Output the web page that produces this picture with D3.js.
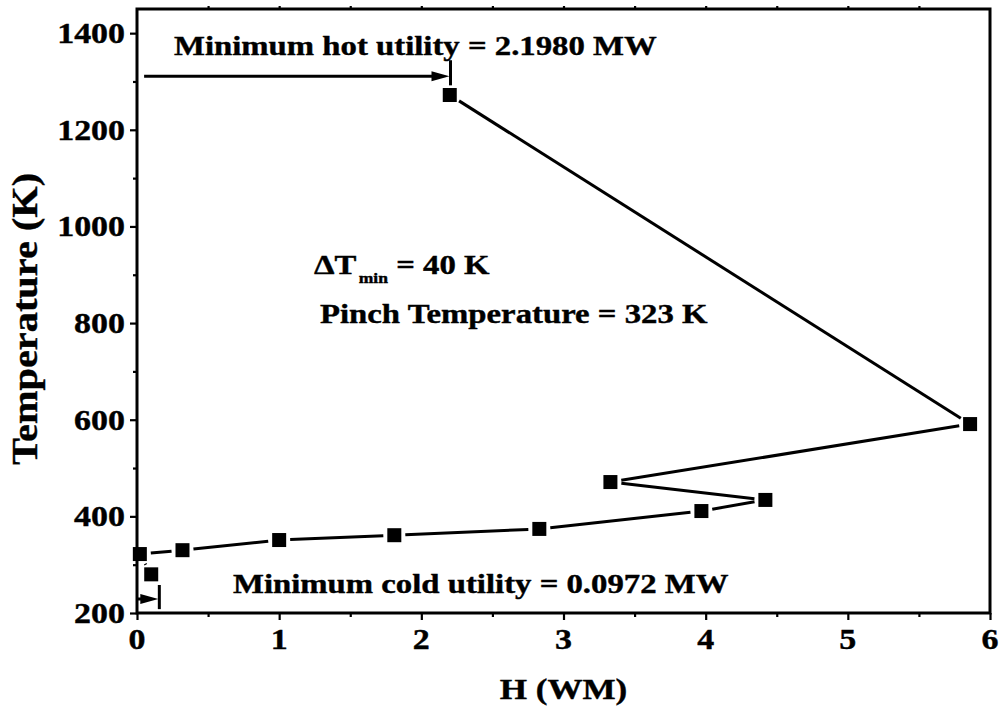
<!DOCTYPE html>
<html>
<head>
<meta charset="utf-8">
<script src="https://cdn.jsdelivr.net/npm/d3@7"></script>
<style>
  body { margin: 0; background: #fff; }
  text { font-family: "Liberation Serif", "Times New Roman", serif; font-weight: bold; fill: #000; stroke: #000; stroke-width: 0.4px; }
</style>
</head>
<body>
<div id="chart"></div>
<script>
// composite curve points (H in MW, T in K)
var H = [2.20, 5.86, 3.33, 4.42, 3.97, 2.83, 1.81, 1.00, 0.32, 0.02, 0.10];
var T = [1272, 591, 471, 434, 411, 374, 361, 351, 330, 322, 280];

var xTicks = [0, 1, 2, 3, 4, 5, 6];
var yTicks = [200, 400, 600, 800, 1000, 1200, 1400];

// utility arrows: [H start, H end, T]
var hotArrow = [0.05, 2.198, 1311];
var hotBar = [1292, 1344];
var coldArrow = [0, 0.15, 229];
var coldBar = [208, 258];

var width = 1003, height = 707;
var margin = { top: 9, right: 13, bottom: 94, left: 137 };
var sx = 1.17; // text in the picture is a bit wide

var svg = d3.select("#chart").append("svg")
  .attr("width", width)
  .attr("height", height);

var x = d3.scaleLinear().domain([0, 6]).range([margin.left, width - margin.right]);
var y = d3.scaleLinear().domain([200, 1450]).range([height - margin.bottom, margin.top]);

function label(px, py, str, size, anchor) {
  return svg.append("text")
    .attr("transform", "translate(" + px + "," + py + ") scale(" + sx + ",1)")
    .attr("text-anchor", anchor || "start")
    .style("font-size", size + "px")
    .text(str);
}

// axes
var x0 = x(0), x1 = x(6), y0 = y(200), y1 = y(1450);

svg.append("g")
  .attr("transform", "translate(0," + y0 + ")")
  .call(d3.axisBottom(x).tickValues(xTicks).tickSize(7).tickSizeOuter(0).tickFormat(""));
svg.append("g")
  .attr("transform", "translate(0," + y0 + ")")
  .call(d3.axisBottom(x).tickValues(d3.range(0.5, 6, 1)).tickSize(4).tickSizeOuter(0).tickFormat(""));
svg.append("g")
  .attr("transform", "translate(0," + y1 + ")")
  .call(d3.axisTop(x).tickValues(d3.range(0.5, 6, 0.5)).tickSize(3).tickSizeOuter(0).tickFormat(""));

svg.append("g")
  .attr("transform", "translate(" + x0 + ",0)")
  .call(d3.axisLeft(y).tickValues(yTicks).tickSize(7).tickSizeOuter(0).tickFormat(""));
svg.append("g")
  .attr("transform", "translate(" + x0 + ",0)")
  .call(d3.axisLeft(y).tickValues(d3.range(300, 1450, 200)).tickSize(4).tickSizeOuter(0).tickFormat(""));

svg.selectAll(".domain").remove();
svg.selectAll(".tick line").attr("stroke", "#000").attr("stroke-width", 2.2);

svg.append("rect")
  .attr("x", x0).attr("y", y1)
  .attr("width", x1 - x0).attr("height", y0 - y1)
  .attr("fill", "none").attr("stroke", "#000").attr("stroke-width", 3);

xTicks.forEach(function(v) { label(x(v), y0 + 36, String(v), 29, "middle"); });
yTicks.forEach(function(v) { label(x0 - 12, y(v) + 10, String(v), 29, "end"); });

label((x0 + x1) / 2, 699, "H (WM)", 30, "middle");
svg.append("text")
  .attr("transform", "translate(37,319) rotate(-90) scale(1.12,1)")
  .attr("text-anchor", "middle")
  .style("font-size", "36px")
  .text("Temperature (K)");

// curve with small gaps at the markers
var pts = H.map(function(h, i) { return [x(h), y(T[i])]; });
var gap = 11;
var segs = [];
for (var i = 0; i < pts.length - 1; i++) {
  var a = pts[i], b = pts[i + 1];
  var dx = b[0] - a[0], dy = b[1] - a[1], len = Math.sqrt(dx * dx + dy * dy);
  var ux = dx / len, uy = dy / len;
  if (len <= 2 * gap) {
    // too short: keep a small stub in the middle
    var mx = (a[0] + b[0]) / 2, my = (a[1] + b[1]) / 2;
    segs.push([[mx - ux * 1.5, my - uy * 1.5], [mx + ux * 1.5, my + uy * 1.5]]);
    continue;
  }
  segs.push([[a[0] + ux * gap, a[1] + uy * gap], [b[0] - ux * gap, b[1] - uy * gap]]);
}
svg.append("g").selectAll("line").data(segs).enter().append("line")
  .attr("x1", function(d) { return d[0][0]; })
  .attr("y1", function(d) { return d[0][1]; })
  .attr("x2", function(d) { return d[1][0]; })
  .attr("y2", function(d) { return d[1][1]; })
  .attr("stroke", "#000").attr("stroke-width", 3);

var ms = 14;
svg.append("g").selectAll("rect").data(pts).enter().append("rect")
  .attr("x", function(d) { return d[0] - ms / 2; })
  .attr("y", function(d) { return d[1] - ms / 2; })
  .attr("width", ms).attr("height", ms)
  .attr("fill", "#000");

// utility arrows
function arrow(a, bar) {
  var xs = x(a[0]), xe = x(a[1]), yy = y(a[2]);
  svg.append("line")
    .attr("x1", xs).attr("y1", yy).attr("x2", xe - 14).attr("y2", yy)
    .attr("stroke", "#000").attr("stroke-width", 3);
  svg.append("path")
    .attr("d", "M" + (xe - 18) + "," + (yy - 5) + "L" + xe + "," + yy + "L" + (xe - 18) + "," + (yy + 5) + "Z")
    .attr("fill", "#000");
  svg.append("line")
    .attr("x1", xe + 1).attr("y1", y(bar[0])).attr("x2", xe + 1).attr("y2", y(bar[1]))
    .attr("stroke", "#000").attr("stroke-width", 3);
}
arrow(hotArrow, hotBar);
arrow(coldArrow, coldBar);

// annotations
label(174, 55, "Minimum hot utility = 2.1980 MW", 28);
var dt = svg.append("text")
  .attr("transform", "translate(314,274) scale(" + sx + ",1)")
  .style("font-size", "28px");
dt.append("tspan").text("\u0394T");
dt.append("tspan").attr("dy", 9).attr("dx", 2).style("font-size", "15px").text("min");
dt.append("tspan").attr("dy", -9).text(" = 40 K");
label(320, 323, "Pinch Temperature = 323 K", 28);
label(233, 593, "Minimum cold utility = 0.0972 MW", 28);
</script>
</body>
</html>
